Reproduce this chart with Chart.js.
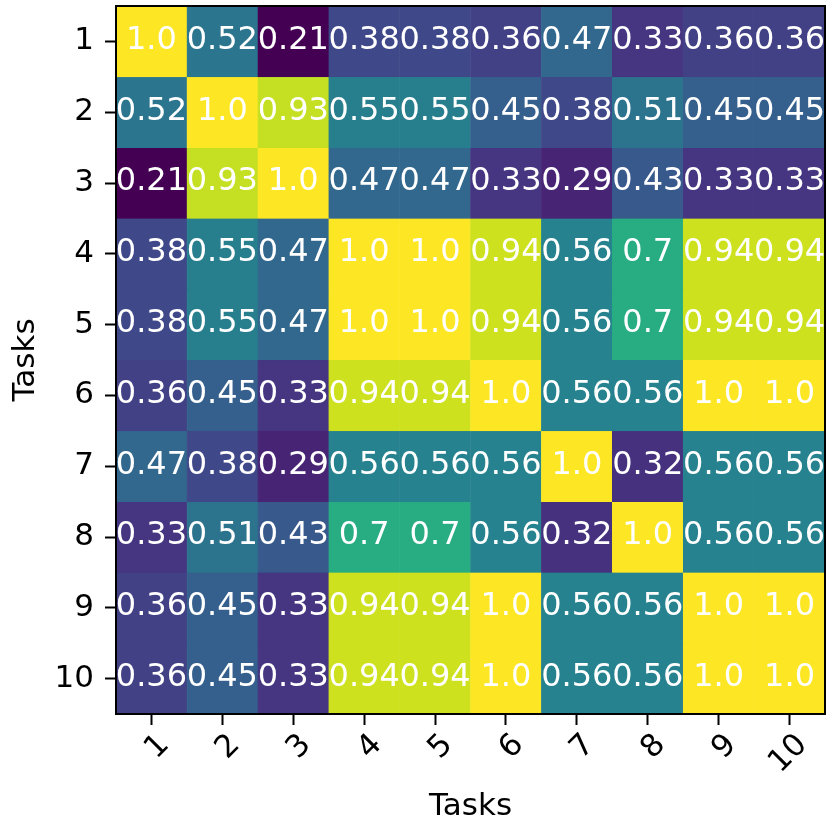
<!DOCTYPE html>
<html>
<head>
<meta charset="utf-8">
<script src="https://cdn.jsdelivr.net/npm/chart.js@4.4.1/dist/chart.umd.min.js"></script>
<style>
  html, body { margin: 0; padding: 0; background: #ffffff; }
  #wrap { width: 831px; height: 828px; position: relative; }
</style>
</head>
<body>
<div id="wrap"><canvas id="c" width="831" height="828"></canvas></div>
<script>
const xLabels = ['1','2','3','4','5','6','7','8','9','10'];
const yLabels = ['1','2','3','4','5','6','7','8','9','10'];
const axisTitle = 'Tasks';

const row1  = [1.0, 0.52, 0.21, 0.38, 0.38, 0.36, 0.47, 0.33, 0.36, 0.36];
const row2  = [0.52, 1.0, 0.93, 0.55, 0.55, 0.45, 0.38, 0.51, 0.45, 0.45];
const row3  = [0.21, 0.93, 1.0, 0.47, 0.47, 0.33, 0.29, 0.43, 0.33, 0.33];
const row4  = [0.38, 0.55, 0.47, 1.0, 1.0, 0.94, 0.56, 0.7, 0.94, 0.94];
const row5  = [0.38, 0.55, 0.47, 1.0, 1.0, 0.94, 0.56, 0.7, 0.94, 0.94];
const row6  = [0.36, 0.45, 0.33, 0.94, 0.94, 1.0, 0.56, 0.56, 1.0, 1.0];
const row7  = [0.47, 0.38, 0.29, 0.56, 0.56, 0.56, 1.0, 0.32, 0.56, 0.56];
const row8  = [0.33, 0.51, 0.43, 0.7, 0.7, 0.56, 0.32, 1.0, 0.56, 0.56];
const row9  = [0.36, 0.45, 0.33, 0.94, 0.94, 1.0, 0.56, 0.56, 1.0, 1.0];
const row10 = [0.36, 0.45, 0.33, 0.94, 0.94, 1.0, 0.56, 0.56, 1.0, 1.0];
const rows = [row1, row2, row3, row4, row5, row6, row7, row8, row9, row10];

const viridisStops = ['#440154','#471365','#482475','#463480','#414487','#3b528b','#355f8d',
  '#2f6c8e','#2a788e','#25848e','#21918c','#1e9c89','#22a884','#2fb47c','#44bf70','#5ec962',
  '#7ad151','#9bd93c','#bddf26','#dfe318','#fde725'];

const allVals = rows.flat();
const vmin = Math.min(...allVals), vmax = Math.max(...allVals);

function hexToRgb(h) {
  return [parseInt(h.slice(1,3),16), parseInt(h.slice(3,5),16), parseInt(h.slice(5,7),16)];
}
function viridis(v) {
  let t = (v - vmin) / (vmax - vmin);
  t = Math.max(0, Math.min(1, t));
  const pos = t * (viridisStops.length - 1);
  const i = Math.min(Math.floor(pos), viridisStops.length - 2);
  const f = pos - i;
  const a = hexToRgb(viridisStops[i]), b = hexToRgb(viridisStops[i+1]);
  const c = a.map((x, k) => Math.round(x + (b[k] - x) * f));
  return `rgb(${c[0]},${c[1]},${c[2]})`;
}

const FONT = "'DejaVu Sans', sans-serif";

const datasets = rows.map((r, ri) => ({
  label: yLabels[ri],
  data: r.map(() => [ri + 0.5, ri + 1.5]),
  values: r,
  backgroundColor: r.map(viridis),
  borderColor: r.map(viridis),
  borderWidth: 0.6,
  borderSkipped: false,
  grouped: false,
  barPercentage: 1.0,
  categoryPercentage: 1.0
}));

const cellText = {
  id: 'cellText',
  afterDatasetsDraw(chart) {
    const ctx = chart.ctx;
    ctx.save();
    ctx.fillStyle = '#ffffff';
    ctx.font = `32px ${FONT}`;
    ctx.textAlign = 'center';
    ctx.textBaseline = 'middle';
    chart.data.datasets.forEach((ds, di) => {
      const meta = chart.getDatasetMeta(di);
      meta.data.forEach((bar, i) => {
        const v = ds.values[i];
        const txt = Number.isInteger(v) ? v.toFixed(1) : String(v);
        const p = bar.getProps(['x','y','base'], true);
        ctx.fillText(txt, p.x, (p.y + p.base) / 2 - 1);
      });
    });
    ctx.restore();
  }
};

const frame = {
  id: 'frame',
  afterDraw(chart) {
    const a = chart.chartArea;
    const ctx = chart.ctx;
    ctx.save();
    ctx.strokeStyle = '#000';
    ctx.lineWidth = 2;
    ctx.strokeRect(a.left, a.top, a.right - a.left, a.bottom - a.top);
    ctx.restore();
  }
};

new Chart(document.getElementById('c'), {
  type: 'bar',
  data: { labels: xLabels, datasets },
  options: {
    responsive: false,
    animation: false,
    layout: { padding: { top: 6, right: 6, left: 0, bottom: 0 } },
    plugins: { legend: { display: false }, tooltip: { enabled: false } },
    scales: {
      x: {
        type: 'category',
        offset: true,
        grid: { display: true, drawOnChartArea: false, offset: false, tickLength: 11, tickWidth: 2, tickColor: '#000' },
        border: { display: true, color: '#000', width: 2 },
        ticks: { color: '#000', font: { family: FONT, size: 31 }, minRotation: 45, maxRotation: 45, padding: 2, labelOffset: 13 },
        title: { display: true, text: axisTitle, color: '#000', font: { family: FONT, size: 31 }, padding: { top: 0, bottom: 2 } },
        afterFit(s) { s.height = 114; s.paddingLeft = 0; s.paddingRight = 0; }
      },
      y: {
        type: 'linear',
        reverse: true,
        min: 0.5,
        max: 10.5,
        afterBuildTicks(axis) { axis.ticks = yLabels.map((_, i) => ({ value: i + 1 })); },
        grid: { display: true, drawOnChartArea: false, tickLength: 11, tickWidth: 2, tickColor: '#000' },
        border: { display: true, color: '#000', width: 2 },
        ticks: { color: '#000', font: { family: FONT, size: 31 }, padding: 11,
          callback: (v) => yLabels[Math.round(v) - 1] },
        title: { display: true, text: axisTitle, color: '#000', font: { family: FONT, size: 31 }, padding: { top: 7, bottom: 0 } },
        afterFit(s) { s.width = 116; s.paddingTop = 0; s.paddingBottom = 0; }
      }
    }
  },
  plugins: [cellText, frame]
});
</script>
</body>
</html>
